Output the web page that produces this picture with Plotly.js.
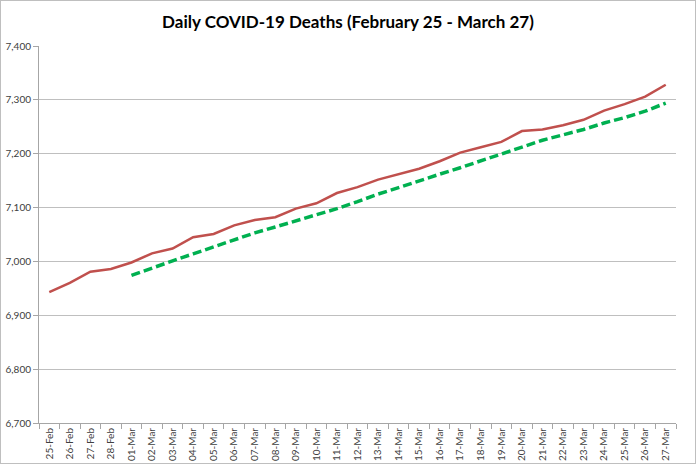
<!DOCTYPE html>
<html>
<head>
<meta charset="utf-8">
<script src="https://cdn.plot.ly/plotly-3.0.1.min.js"></script>
<style>
  html, body { margin: 0; padding: 0; background: #fff; }
  #frame { width: 696px; height: 464px; box-sizing: border-box; border: 1px solid #bfbfbf; }
  #chart { width: 694px; height: 462px; }
</style>
</head>
<body>
<div id="frame"><div id="chart"></div></div>
<script>
const categories = ["25-Feb","26-Feb","27-Feb","28-Feb","01-Mar","02-Mar","03-Mar","04-Mar","05-Mar","06-Mar",
  "07-Mar","08-Mar","09-Mar","10-Mar","11-Mar","12-Mar","13-Mar","14-Mar","15-Mar","16-Mar",
  "17-Mar","18-Mar","19-Mar","20-Mar","21-Mar","22-Mar","23-Mar","24-Mar","25-Mar","26-Mar","27-Mar"];

const dailyDeaths = [6943,6960,6981,6986,6998,7015,7024,7045,7051,7067,
  7077,7082,7098,7108,7127,7138,7152,7162,7172,7186,
  7202,7212,7222,7242,7245,7253,7263,7280,7292,7306,7328];

const trendCategories = categories.slice(4);
const trendValues = [6974,6988,7001,7014,7027,7040,7053,7064,7075,7086,
  7098,7111,7125,7137,7150,7162,7174,7187,7199,7213,
  7225,7235,7245,7257,7267,7279,7294];

const yTicks = [6700,6800,6900,7000,7100,7200,7300,7400];

const traces = [
  {
    x: categories, y: dailyDeaths, type: "scatter", mode: "lines",
    line: { color: "#c0504d", width: 2.5 }, hoverinfo: "x+y"
  },
  {
    x: trendCategories, y: trendValues, type: "scatter", mode: "lines",
    line: { color: "#00b050", width: 3.5, dash: "9px,4px" }, hoverinfo: "x+y"
  }
];

const layout = {
  width: 694, height: 462,
  margin: { l: 38, r: 19, t: 45, b: 40, pad: 0 },
  paper_bgcolor: "#ffffff", plot_bgcolor: "#ffffff",
  showlegend: false,
  font: { family: "Lato, 'Liberation Sans', sans-serif", color: "#404040", size: 10 },
  title: {
    text: "<b>Daily COVID-19 Deaths (February 25 - March 27)</b>",
    font: { family: "Lato, 'Open Sans', sans-serif", size: 17, color: "#000000" },
    x: 0.5, xanchor: "center", y: 0.955, yanchor: "middle"
  },
  xaxis: {
    type: "category", categoryorder: "array", categoryarray: categories,
    range: [-0.5, categories.length - 0.5],
    tickson: "boundaries", ticks: "outside", ticklen: 5, tickwidth: 1, tickcolor: "#a6a6a6",
    tickangle: -90, tickfont: { size: 10, color: "#404040" },
    showgrid: false, showline: true, linecolor: "#a6a6a6", linewidth: 1,
    zeroline: false, fixedrange: true
  },
  yaxis: {
    range: [6700, 7400], tickvals: yTicks, ticktext: yTicks.map(v => v.toLocaleString("en-US")),
    ticks: "outside", ticklen: 5, tickwidth: 1, tickcolor: "#a6a6a6",
    tickfont: { size: 10, color: "#404040" },
    showgrid: true, gridcolor: "#bfbfbf", gridwidth: 1,
    showline: true, linecolor: "#a6a6a6", linewidth: 1,
    zeroline: false, fixedrange: true
  }
};

Plotly.newPlot("chart", traces, layout, { displayModeBar: false, staticPlot: true });
</script>
</body>
</html>
